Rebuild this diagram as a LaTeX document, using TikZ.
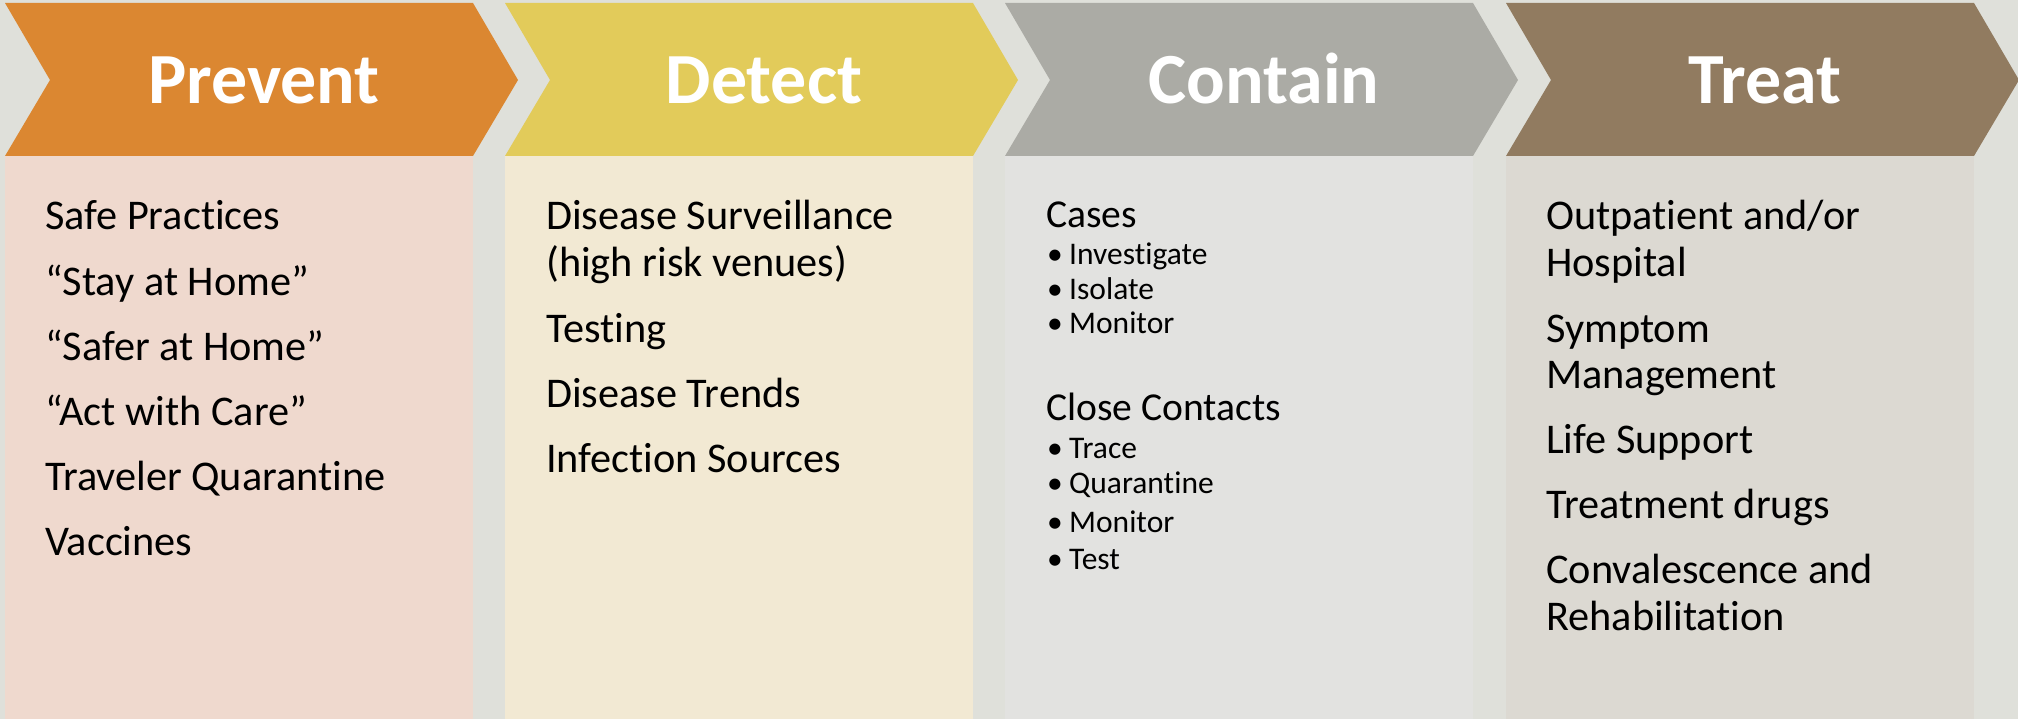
\documentclass[tikz,border=0pt]{standalone}
\usepackage{fontspec}
\setmainfont{Carlito}[Ligatures={NoCommon,NoContextual}]
\definecolor{bg}{HTML}{DFE0DA}
\definecolor{prevc}{HTML}{DB8731}
\definecolor{detc}{HTML}{E2CB5A}
\definecolor{contc}{HTML}{ABABA5}
\definecolor{treatc}{HTML}{917B60}
\definecolor{prevb}{HTML}{EFD9CE}
\definecolor{detb}{HTML}{F2E9D3}
\definecolor{contb}{HTML}{E2E2E0}
\definecolor{treatb}{HTML}{DCD9D2}
\newcommand\mychevron[3]{%
  \fill[#2] (#1,3) -- ++(468,0) -- ++(45,77) -- ++(-45,76) -- ++(-468,0) -- ++(45,-76) -- cycle;
  \fill[#3] (#1,156) rectangle ++(468,563);}
\begin{document}
\begin{tikzpicture}[x=1pt,y=-1pt,
  title/.style={anchor=base,text=white,inner sep=0,font=\bfseries\fontsize{72}{80}\selectfont},
  body/.style={anchor=base west,inner sep=0,font=\fontsize{42.3}{47}\selectfont},
  head/.style={anchor=base west,inner sep=0,font=\fontsize{39.6}{44}\selectfont},
  item/.style={anchor=base west,inner sep=0,font=\fontsize{31.5}{35}\selectfont}]
\useasboundingbox[fill=bg] (0,0) rectangle (2018,719);
\mychevron{5}{prevc}{prevb}
\mychevron{505}{detc}{detb}
\mychevron{1005}{contc}{contb}
\mychevron{1506}{treatc}{treatb}
% titles
\node[title] (tp) at (264,104) {Prevent};
\node[title] (td) at (764,104) {Detect};
\node[title] (tc) at (1264,104) {Contain};
\node[title] (tt) at (1765,104) {Treat};
% Prevent
\node[body] (p1) at (45,230) {Safe Practices};
\node[body] (p2) at (45,295) {“Stay at Home”};
\node[body] (p3) at (45,360) {“Safer at Home”};
\node[body] (p4) at (45,425) {“Act with Care”};
\node[body] (p5) at (45,490) {Traveler Quarantine};
\node[body] (p6) at (45,555) {Vaccines};
% Detect
\node[body] (d1) at (546,230) {Disease Surveillance};
\node[body] (d2) at (546,277) {(high risk venues)};
\node[body] (d3) at (546,342) {Testing};
\node[body] (d4) at (546,407) {Disease Trends};
\node[body] (d5) at (546,472) {Infection Sources};
% Contain
\node[head] (c1) at (1046,228) {Cases};
\node[item] (c1b1) at (1047,265) {•};
\node[item] (c1a) at (1069,265) {Investigate};
\node[item] (c1b2) at (1047,299) {•};
\node[item] (c1c) at (1069,299) {Isolate};
\node[item] (c1b3) at (1047,334) {•};
\node[item] (c1d) at (1069,334) {Monitor};
\node[head] (c2) at (1046,420) {Close Contacts};
\node[item] (c2b1) at (1047,458) {•};
\node[item] (c2a) at (1069,458) {Trace};
\node[item] (c2b2) at (1047,493) {•};
\node[item] (c2c) at (1069,493) {Quarantine};
\node[item] (c2b3) at (1047,532) {•};
\node[item] (c2d) at (1069,532) {Monitor};
\node[item] (c2b4) at (1047,569) {•};
\node[item] (c2e) at (1069,569) {Test};
% Treat
\node[body] (t1) at (1546,230) {Outpatient and/or};
\node[body] (t2) at (1546,277) {Hospital};
\node[body] (t3) at (1546,342) {Symptom};
\node[body] (t4) at (1546,388) {Management};
\node[body] (t5) at (1546,453) {Life Support};
\node[body] (t6) at (1546,518) {Treatment drugs};
\node[body] (t7) at (1546,583) {Convalescence and};
\node[body] (t8) at (1546,630) {Rehabilitation};
\end{tikzpicture}
\end{document}
